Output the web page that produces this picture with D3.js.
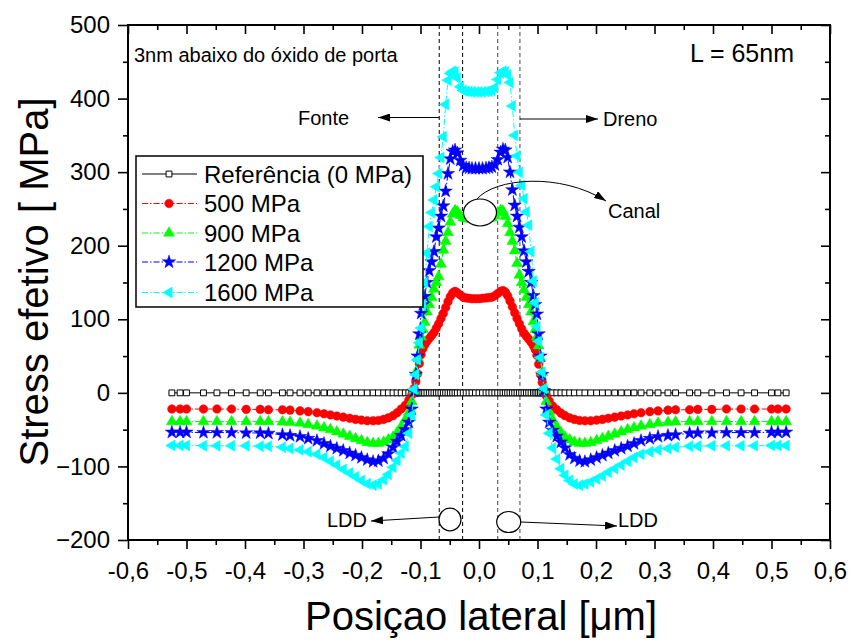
<!DOCTYPE html>
<html><head><meta charset="utf-8">
<script src="https://cdn.jsdelivr.net/npm/d3@7"></script>
<style>body{margin:0;background:#fff;} svg text{font-family:"Liberation Sans",Arial,Helvetica,sans-serif;fill:#000;}</style>
</head><body><svg id="c" width="851" height="643"></svg>
<script>
// ---------- data ----------
const xPos = [-0.525,-0.511,-0.500,-0.471,-0.448,-0.423,-0.398,-0.374,-0.360,-0.336,
 -0.323,-0.306,-0.292,-0.277,-0.265,-0.254,-0.243,-0.232,-0.221,-0.211,
 -0.201,-0.191,-0.181,-0.172,-0.163,-0.155,-0.147,-0.140,-0.133,-0.126,
 -0.120,-0.115,-0.111,-0.108,-0.105,-0.102,-0.099,-0.096,-0.093,-0.089,
 -0.085,-0.081,-0.077,-0.073,-0.069,-0.065,-0.061,-0.057,-0.053,-0.049,
 -0.045,-0.041,-0.037,-0.032,-0.027,-0.022,-0.017,-0.012,-0.006,0.000,
 0.006,0.012,0.017,0.022,0.027,0.032,0.037,0.041,0.045,0.049,
 0.053,0.057,0.061,0.065,0.069,0.073,0.077,0.081,0.085,0.089,
 0.093,0.096,0.099,0.102,0.105,0.108,0.111,0.115,0.120,0.126,
 0.133,0.140,0.147,0.155,0.163,0.172,0.181,0.191,0.201,0.211,
 0.221,0.232,0.243,0.254,0.265,0.277,0.292,0.306,0.323,0.336,
 0.360,0.374,0.398,0.423,0.448,0.471,0.500,0.511,0.525];

const ref0 = [0,0,0,0,0,0,0,0,0,0, 0,0,0,0,0,0,0,0,0,0, 0,0,0,0,0,0,0,0,0,0,
 0,0,0,0,0,0,0,0,0,0, 0,0,0,0,0,0,0,0,0,0, 0,0,0,0,0,0,0,0,0,0,
 0,0,0,0,0,0,0,0,0,0, 0,0,0,0,0,0,0,0,0,0, 0,0,0,0,0,0,0,0,0,0,
 0,0,0,0,0,0,0,0,0,0, 0,0,0,0,0,0,0,0,0,0, 0,0,0,0,0,0,0,0,0];

const s500 = [-22,-22,-22,-22,-22,-22,-22.5,-22.5,-23,-23,
 -23.5,-24.5,-25.5,-27,-28.5,-30,-31.5,-33,-34.5,-36,
 -37,-38,-38,-37.5,-36,-34,-31,-27,-22,-17,
 -10,-3,6,15,26,40,52,60,65,70,
 74,78,82,88,94,101,108,116,124,131,
 136,138,136,133,130,129,128.5,128,128,128,
 128.5,129,129.5,130,132,135,138,139,137,132,
 125,117,109,101,94,87,81,77,73,69,
 64,59,51,39,25,14,5,-4,-11,-18,
 -23,-27.5,-31,-34,-36,-37.5,-38,-38,-37,-36,
 -34.5,-33,-31.5,-30,-28.5,-27,-25.5,-24.5,-23.5,-23,
 -23,-22.5,-22.5,-22,-22,-22,-22,-22,-22];

const s900 = [-39,-39,-39,-39,-39,-39,-39,-39,-39,-39.5,
 -40,-41,-43,-45,-47.5,-50,-53,-56,-59,-62,
 -65,-67.5,-68.5,-68.5,-67,-64,-60,-54,-46,-36,
 -26,-12,3,28,48,65,76,86,96,110,
 120,130,141,150,158,175,194,206,218,232,
 243,248,246,241,238,237,236.5,236,236,236,
 236,236.5,237,238,241,245,248,247,240,230,
 218,206,193,176,160,150,140,130,120,110,
 97,86,76,64,47,28,4,-12,-26,-37,
 -46,-54,-60,-64,-67,-68.5,-68.5,-67.5,-65,-62,
 -59,-56,-53,-50,-47.5,-45,-43,-41,-40,-39.5,
 -39,-39,-39,-39,-39,-39,-39,-39,-39];

const s1200 = [-53.5,-53.5,-53.5,-54,-54,-54,-54.5,-54.5,-55,-57,
 -58,-59.5,-62,-65,-69,-72.5,-75.5,-78.5,-82,-85,
 -88,-91,-93.5,-92.5,-89,-83,-74,-66,-58,-50,
 -40,-22,2,25,50,80,108,120,131,150,
 166,178,192,212,224,240,254,274,298,318,
 328,330,326,316,309,306,305.5,305,305,305,
 305,305.5,306,307,310,317,327,331,330,320,
 300,276,255,240,225,212,193,178,165,150,
 132,120,107,80,50,25,3,-22,-40,-51,
 -59,-67,-75,-84,-89,-92.5,-93.5,-91,-88,-85,
 -82,-78.5,-75.5,-72.5,-69,-65,-62,-59.5,-58,-57,
 -55,-54.5,-54.5,-54,-54,-54,-53.5,-53.5,-53.5];

const s1600 = [-71.5,-71.5,-71.5,-72,-72,-72,-72,-72.5,-72.5,-74,
 -75.5,-77.5,-80,-83.5,-88,-93,-98,-104,-109,-114,
 -119,-123.5,-125.5,-124,-118,-111,-101,-92,-82,-73,
 -55,-30,5,25,45,68,88,120,150,190,
 226,245,262,280,298,320,348,392,425,434,
 437,436,428,416,411,410,409.5,409,409,409,
 409,409.5,410,411,415,426,435,437,436,432,
 422,390,350,322,300,282,264,246,228,192,
 152,122,90,70,48,28,6,-30,-55,-75,
 -90,-103,-112,-119,-124,-125.5,-124,-121,-117,-113,
 -108,-103,-98,-93,-88,-83.5,-80,-77.5,-75.5,-74,
 -72.5,-72.5,-72,-72,-72,-72,-71.5,-71.5,-71.5];

const seriesNames = ["Referência (0 MPa)","500 MPa","900 MPa","1200 MPa","1600 MPa"];
const xTicks = [-0.6,-0.5,-0.4,-0.3,-0.2,-0.1,0.0,0.1,0.2,0.3,0.4,0.5,0.6];
const xTickLabels = ["-0,6","-0,5","-0,4","-0,3","-0,2","-0,1","0,0","0,1","0,2","0,3","0,4","0,5","0,6"];
const xMinor = [-0.55,-0.45,-0.35,-0.25,-0.15,-0.05,0.05,0.15,0.25,0.35,0.45,0.55];
const yTicks = [-200,-100,0,100,200,300,400,500];
const yMinor = [-150,-50,50,150,250,350,450];
const regionLines = [-0.068,-0.028,0.032,0.070];

// ---------- layout ----------
const L=128,R=830,T=25,B=540;
const svg = d3.select("#c");
const x = d3.scaleLinear().domain([-0.6,0.6]).range([L,R]);
const y = d3.scaleLinear().domain([-200,500]).range([B,T]);

const series = [
  {name:seriesNames[0], data:ref0,  color:"#000", sym:d3.symbolSquare, size:34, fill:"#fff", rot:0, dash:null},
  {name:seriesNames[1], data:s500,  color:"#ff0000", sym:d3.symbolCircle, size:58, fill:"#ff0000", rot:0, dash:"6,2,1.5,2"},
  {name:seriesNames[2], data:s900,  color:"#00ff00", sym:d3.symbolTriangle, size:52, fill:"#00ff00", rot:0, dash:"6,2,1.5,2"},
  {name:seriesNames[3], data:s1200, color:"#0000ff", sym:d3.symbolStar, size:55, fill:"#0000ff", rot:0, dash:"6,2,1.5,2"},
  {name:seriesNames[4], data:s1600, color:"#00ffff", sym:d3.symbolTriangle, size:52, fill:"#00ffff", rot:-90, dash:"6,2,1.5,2"}
];

// region dashed lines
svg.append("g").selectAll("line").data(regionLines).join("line")
  .attr("x1",d=>x(d)).attr("x2",d=>x(d)).attr("y1",T).attr("y2",B)
  .attr("stroke",(d,i)=>i<2?"#000":"#444").attr("stroke-width",1).attr("stroke-dasharray","4,3");

// data
const line = d3.line().x(d=>x(d[0])).y(d=>y(d[1]));
const gData = svg.append("g");
series.forEach(s=>{
  const pts = xPos.map((v,i)=>[v,s.data[i]]);
  gData.append("path").attr("d",line(pts)).attr("fill","none")
    .attr("stroke",s.color).attr("stroke-width",1)
    .attr("stroke-dasharray",s.dash);
  const sym = d3.symbol().type(s.sym).size(s.size);
  gData.append("g").selectAll("path").data(pts).join("path")
    .attr("d",sym)
    .attr("transform",d=>`translate(${x(d[0])},${y(d[1])}) rotate(${s.rot})`)
    .attr("fill",s.fill).attr("stroke",s.color).attr("stroke-width",s.fill==="#fff"?1:0.5);
});

// axes
const fs = "24px";
const gx = svg.append("g").attr("transform",`translate(0,${B})`)
  .call(d3.axisBottom(x).tickValues(xTicks).tickFormat((d,i)=>xTickLabels[i]).tickSize(9).tickPadding(13));
const gxm = svg.append("g").attr("transform",`translate(0,${B})`)
  .call(d3.axisBottom(x).tickValues(xMinor).tickFormat("").tickSize(5));
const gy = svg.append("g").attr("transform",`translate(${L},0)`)
  .call(d3.axisLeft(y).tickValues(yTicks).tickFormat(d3.format("d")).tickSize(10).tickPadding(8));
const gym = svg.append("g").attr("transform",`translate(${L},0)`)
  .call(d3.axisLeft(y).tickValues(yMinor).tickFormat("").tickSize(5));
const gt = svg.append("g").attr("transform",`translate(0,${T})`)
  .call(d3.axisBottom(x).tickValues(xTicks).tickFormat("").tickSize(9));
const gtm = svg.append("g").attr("transform",`translate(0,${T})`)
  .call(d3.axisBottom(x).tickValues(xMinor).tickFormat("").tickSize(5));
const gr = svg.append("g").attr("transform",`translate(${R},0)`)
  .call(d3.axisLeft(y).tickValues(yTicks).tickFormat("").tickSize(9));
const grm = svg.append("g").attr("transform",`translate(${R},0)`)
  .call(d3.axisLeft(y).tickValues(yMinor).tickFormat("").tickSize(5));
[gx,gxm,gy,gym,gt,gtm,gr,grm].forEach(g=>{
  g.select(".domain").remove();
  g.selectAll("line").attr("stroke","#000").attr("stroke-width",1.6);
  g.selectAll("text").style("font-size",fs).attr("fill","#000");
});
svg.append("rect").attr("x",L).attr("y",T).attr("width",R-L).attr("height",B-T)
  .attr("fill","none").attr("stroke","#000").attr("stroke-width",2);

// axis titles
svg.append("text").attr("x",481).attr("y",630).attr("text-anchor","middle")
  .style("font-size","40px").text("Posiçao lateral [μm]");
svg.append("text").attr("transform","translate(48,282) rotate(-90)").attr("text-anchor","middle")
  .style("font-size","40px").text("Stress efetivo [ MPa]");

// arrow marker
const defs = svg.append("defs");
defs.append("marker").attr("id","ah").attr("viewBox","0 0 12 8").attr("refX",12).attr("refY",4)
  .attr("markerWidth",12).attr("markerHeight",8).attr("markerUnits","userSpaceOnUse").attr("orient","auto")
  .append("path").attr("d","M0,0 L12,4 L0,8 Z").attr("fill","#000");

const ann = svg.append("g");
function arrow(d){ ann.append("path").attr("d",d).attr("fill","none").attr("stroke","#000").attr("stroke-width",1).attr("marker-end","url(#ah)"); }
arrow(`M${x(-0.068)},117.5 L378,117.5`);
arrow(`M${x(0.070)},119 L598,119`);
arrow("M477,199 C495,178 560,172 606,201");
arrow("M439,517 L371,521");
arrow("M521,522 L617,526");

ann.append("ellipse").attr("cx",480).attr("cy",212.5).attr("rx",16.5).attr("ry",13.5)
  .attr("fill","#fff").attr("stroke","#000").attr("stroke-width",1.2);
ann.append("ellipse").attr("cx",450).attr("cy",519.5).attr("rx",11).attr("ry",11.3)
  .attr("fill","#fff").attr("stroke","#000").attr("stroke-width",1.2);
ann.append("ellipse").attr("cx",508.7).attr("cy",522).attr("rx",12).attr("ry",10.5)
  .attr("fill","#fff").attr("stroke","#000").attr("stroke-width",1.2);

function label(t,xx,yy,size,anchor){ ann.append("text").attr("x",xx).attr("y",yy).attr("text-anchor",anchor||"start").style("font-size",size).text(t); }
label("3nm abaixo do óxido de porta",134,62,"20px");
label("L = 65nm",690,62,"25px");
label("Fonte",298,125,"20px");
label("Dreno",603,126,"20px");
label("Canal",608,218,"20px");
label("LDD",327,527,"20px");
label("LDD",618,527,"20px");

// legend
const lg = svg.append("g");
lg.append("rect").attr("x",136).attr("y",156).attr("width",287).attr("height",151)
  .attr("fill","#fff").attr("stroke","#000").attr("stroke-width",1.5);
const ly = [174,203.5,233,262,292.5];
series.forEach((s,i)=>{
  lg.append("line").attr("x1",142).attr("x2",197).attr("y1",ly[i]).attr("y2",ly[i])
    .attr("stroke",s.color).attr("stroke-width",1).attr("stroke-dasharray",s.dash);
  lg.append("path").attr("d",d3.symbol().type(s.sym).size(s.size)())
    .attr("transform",`translate(169,${ly[i]}) rotate(${s.rot})`)
    .attr("fill",s.fill).attr("stroke",s.color).attr("stroke-width",s.fill==="#fff"?1:0.5);
  lg.append("text").attr("x",204).attr("y",ly[i]+8.5).style("font-size","24px").text(s.name);
});
</script></body></html>
